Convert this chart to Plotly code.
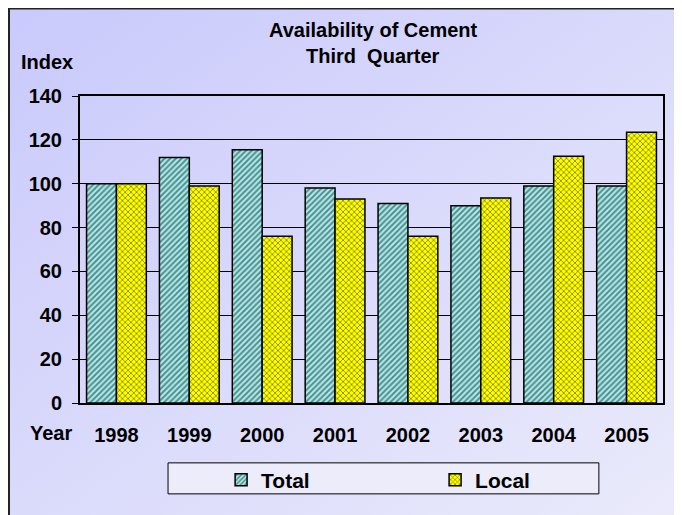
import urllib.parse
import plotly.graph_objects as go

years = ["1998", "1999", "2000", "2001", "2002", "2003", "2004", "2005"]
total = [100, 112, 115.5, 98, 91, 90, 99, 99]
local = [100, 99, 76, 93, 76, 93.5, 112.5, 123.5]
y_ticks = [0, 20, 40, 60, 80, 100, 120, 140]

FONT = "Liberation Sans, Arial, sans-serif"

# soft lavender gradient used behind the whole chart
svg = ('<svg xmlns="http://www.w3.org/2000/svg" width="100" height="100" preserveAspectRatio="none">'
       '<defs><linearGradient id="g" x1="0" y1="0" x2="1" y2="1">'
       '<stop offset="0" stop-color="#c9c9fc"/><stop offset="1" stop-color="#ececfb"/>'
       '</linearGradient></defs><rect width="100" height="100" fill="url(#g)"/></svg>')
bg_src = "data:image/svg+xml;utf8," + urllib.parse.quote(svg)

fig = go.Figure()
fig.add_trace(go.Bar(
    x=years, y=total, name="Total",
    marker=dict(color="#a8f0f0", line=dict(color="black", width=1.5),
                pattern=dict(shape="/", fgcolor="#102020", bgcolor="#a8f0f0",
                             size=4, solidity=0.5)),
))
fig.add_trace(go.Bar(
    x=years, y=local, name="Local",
    marker=dict(color="#ffff00", line=dict(color="black", width=1.5),
                pattern=dict(shape="x", fgcolor="#1a1a00", bgcolor="#ffff00",
                             size=4, solidity=0.4)),
))

bold = dict(family=FONT, color="black", weight="bold")

fig.update_layout(
    width=682, height=515,
    margin=dict(l=72, r=27, t=88, b=120),
    paper_bgcolor="white",
    plot_bgcolor="rgba(0,0,0,0)",
    font=dict(family=FONT, size=16, color="black"),
    barmode="group", bargap=0.18, bargroupgap=0,
    showlegend=True,
    legend=dict(orientation="h", x=0.242, xanchor="left", y=-0.184, yanchor="top",
                bgcolor="rgba(0,0,0,0)", entrywidth=169, entrywidthmode="pixels",
                font=dict(size=21, **bold), traceorder="normal"),
    xaxis=dict(showline=True, linecolor="black", linewidth=2, mirror=True,
               tickfont=dict(size=20, **bold), ticklabelstandoff=13),
    yaxis=dict(range=[0, 140], tickvals=y_ticks, showline=True, linecolor="black",
               linewidth=2, mirror=True, ticks="outside", ticklen=6, tickcolor="black",
               showgrid=True, gridcolor="black", gridwidth=1,
               tickfont=dict(size=20, **bold), ticklabelstandoff=6,
               zeroline=False),
    images=[dict(source=bg_src, xref="paper", yref="paper", x=-0.13, y=1.31,
                 sizex=1.25, sizey=1.72, sizing="stretch", layer="below",
                 xanchor="left", yanchor="top")],
    shapes=[
        dict(type="rect", xref="paper", yref="paper", layer="below",
             x0=-0.1218, x1=1.1, y0=-0.5, y1=1.285,
             fillcolor="rgba(0,0,0,0)", line=dict(color="#222222", width=2)),
        dict(type="rect", xref="paper", yref="paper", layer="below",
             x0=0.151, x1=0.890, y0=-0.296, y1=-0.195,
             fillcolor="#ececfb", line=dict(color="black", width=1)),
    ],
    annotations=[
        dict(text="<b>Availability of Cement</b>", xref="paper", yref="paper",
             x=0.503, y=1.215, xanchor="center", yanchor="middle",
             showarrow=False, font=dict(size=20)),
        dict(text="<b>Third  Quarter</b>", xref="paper", yref="paper",
             x=0.503, y=1.130, xanchor="center", yanchor="middle",
             showarrow=False, font=dict(size=20)),
        dict(text="<b>Index</b>", xref="paper", yref="paper", x=-0.057, y=1.111,
             xanchor="center", yanchor="middle", showarrow=False, font=dict(size=20)),
        dict(text="<b>Year</b>", xref="paper", yref="paper", x=-0.050, y=-0.098,
             xanchor="center", yanchor="middle", showarrow=False, font=dict(size=20)),
    ],
)

fig.write_html("out.html")
